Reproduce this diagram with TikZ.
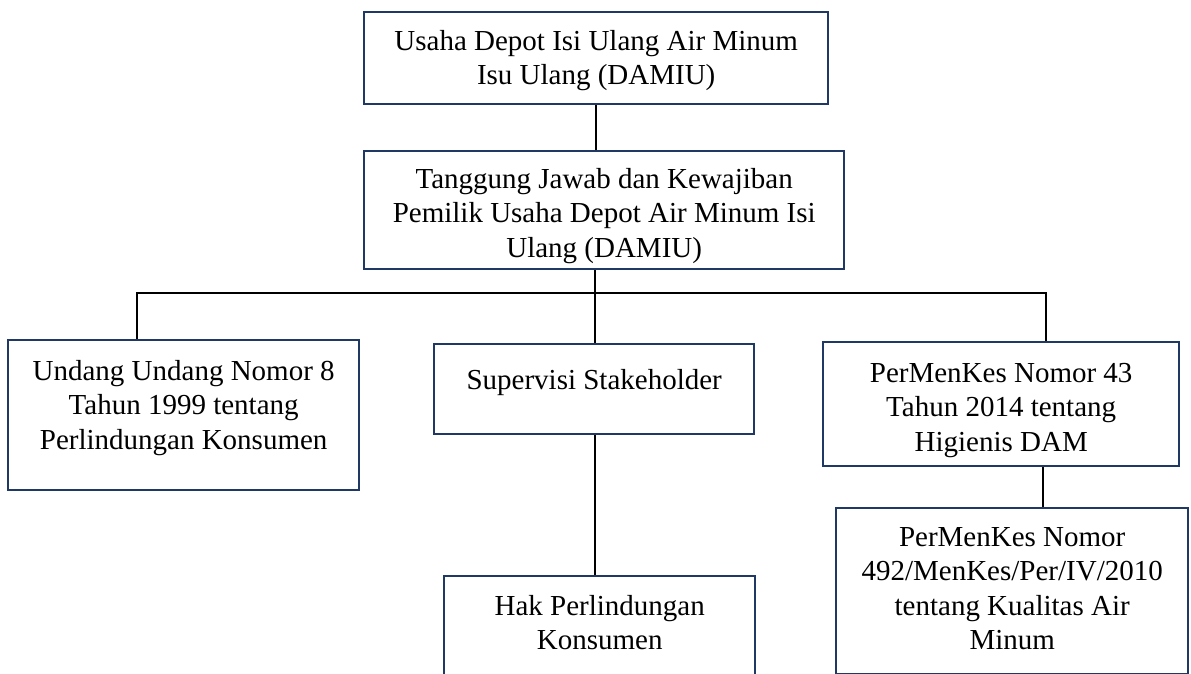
\documentclass[tikz,border=0pt]{standalone}
\usepackage{fontspec}
\setmainfont{Liberation Serif}
\usepackage{tikz}
\usetikzlibrary{positioning,calc}
\definecolor{damiu-navy}{HTML}{203864}

\begin{document}
\begin{tikzpicture}[x=0.5pt, y=-0.5pt, line width=1.2pt,
    dambox/.style={draw=damiu-navy, fill=white, anchor=north west, inner sep=0pt, align=center,
        font=\fontsize{14.5}{17.25}\selectfont}]

    \useasboundingbox (0,0) rectangle (1191,674);

    \node[dambox, minimum width=232pt, text height=36.25pt, text depth=9.75pt] (usaha) at (363,11) {Usaha Depot Isi Ulang Air Minum\\Isu Ulang (DAMIU)};
    \node[dambox, minimum width=240pt, text height=53pt, text depth=6pt] (tanggung) at (363,150) {Tanggung Jawab dan Kewajiban\\Pemilik Usaha Depot Air Minum Isi\\Ulang (DAMIU)};

    \node[dambox, minimum width=175.5pt, text height=54.5pt, text depth=20.5pt] (uu) at (7,339) {Undang Undang Nomor 8\\Tahun 1999 tentang\\Perlindungan Konsumen};
    \node[dambox, minimum width=160pt, text height=22.5pt, text depth=22.5pt] (sup) at (433,343) {Supervisi Stakeholder};
    \node[dambox, minimum width=178pt, text height=54.5pt, text depth=7.5pt] (pm43) at (822,341) {PerMenKes Nomor 43\\Tahun 2014 tentang\\Higienis DAM};

    \node[dambox, minimum width=155.5pt, text height=36.75pt, text depth=25.75pt] (hak) at (443,575) {Hak Perlindungan\\Konsumen};
    \node[dambox, minimum width=176pt, text height=70.75pt, text depth=12.25pt] (pm492) at (835,507) {PerMenKes Nomor\\492/MenKes/Per/IV/2010\\tentang Kualitas Air\\Minum};

    \coordinate (busc) at (595,293);
    \coordinate (busl) at (137,293);
    \coordinate (busr) at (1046,293);

    \draw (usaha.south) -- (usaha.south |- tanggung.north);
    \draw (busc |- tanggung.south) -- (busc);
    \draw (busl |- uu.north) -- (busl) -- (busr) -- (busr |- pm43.north);
    \draw (busc) -- (busc |- sup.north);
    \draw (busc |- sup.south) -- (busc |- hak.north);
    \draw ([xshift=21pt]pm43.south) -- ([xshift=21pt]pm43.south |- pm492.north);
\end{tikzpicture}
\end{document}
